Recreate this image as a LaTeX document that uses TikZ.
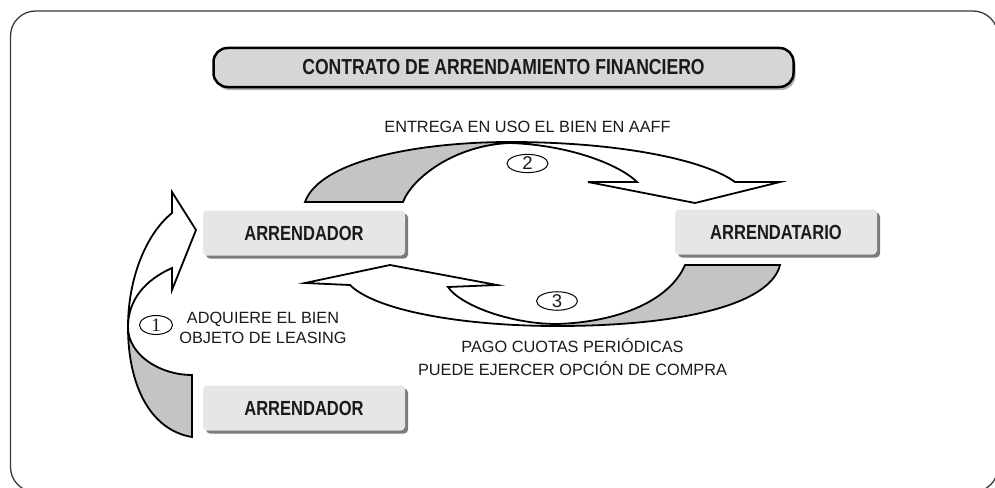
\documentclass[tikz,border=0pt]{standalone}
\usepackage{fontspec}
\setmainfont{Liberation Sans}
\newfontfamily\narrowfont{Liberation Sans}[FakeStretch=0.81]
\newfontfamily\serifnum{Liberation Serif}
\usetikzlibrary{shadows,shapes.geometric}
\definecolor{boxfill}{HTML}{E6E6E6}
\definecolor{titlefill}{HTML}{D6D6D6}
\definecolor{arrowgray}{HTML}{C4C4C4}
\definecolor{framecol}{HTML}{3A3A3A}
\definecolor{txt}{HTML}{1A1A1A}
\definecolor{shadowcol}{HTML}{6E6E6E}
\begin{document}
\begin{tikzpicture}[x=1pt,y=-1pt,
  partybox/.style={fill=boxfill, rounded corners=4pt, minimum width=202pt,
    minimum height=45pt, inner sep=0pt, text=txt,
    font={\narrowfont\bfseries\fontsize{20.4}{24}\selectfont},
    drop shadow={shadow xshift=3pt, shadow yshift=-3pt, fill=shadowcol, opacity=0.9}},
  titlebox/.style={draw=black, line width=2.5pt, fill=titlefill, rounded corners=14pt,
    minimum width=580pt, minimum height=39pt, inner sep=0pt, text=txt,
    font={\narrowfont\bfseries\fontsize{21.7}{25}\selectfont},
    drop shadow={shadow xshift=2pt, shadow yshift=-3pt, fill=gray, opacity=0.6}},
  lbl/.style={text=txt, inner sep=0pt, font={\fontsize{16.3}{20}\selectfont}},
  numoval/.style={ellipse, draw=black, line width=1pt, fill=white, inner sep=0pt,
    minimum width=41pt, minimum height=17pt, text=txt, font={\fontsize{18.5}{19}\selectfont}},
  ribbon/.style={draw=black, line width=1.8pt, line join=miter},
  ribbonfill/.style={fill=arrowgray}
]
\useasboundingbox (0,0) rectangle (995,487);
\clip (0,0) rectangle (995,487);
\fill[white] (0,0) rectangle (995,487);
% outer frame
\draw[framecol, line width=1.3pt, rounded corners=25pt] (10.5,11) rectangle (998,492);

% title
\node[titlebox] (title) at (503.5,67.5) {CONTRATO DE ARRENDAMIENTO FINANCIERO};

% boxes
\node[partybox] (arr1) at (304,233) {ARRENDADOR};
\node[partybox] (arrt) at (776,232) {ARRENDATARIO};
\node[partybox] (arr0) at (304,408) {ARRENDADOR};

% arrow 2 (top)
\fill[ribbonfill] (305,202) -- (403,202) .. controls (412,178) and (455,145) .. (510,143)
  .. controls (420,142) and (320,160) .. (305,202) -- cycle;
\draw[ribbon] (305,202) -- (403,202) .. controls (412,178) and (455,145) .. (510,143)
  .. controls (570,145) and (620,165) .. (637,182) -- (588,182) -- (695,203) -- (780,182)
  -- (735,182) .. controls (705,160) and (620,142) .. (510,142)
  .. controls (420,142) and (320,160) .. (305,202) -- cycle;

% arrow 3 (bottom)
\fill[ribbonfill] (780,265) -- (685,265) .. controls (670,300) and (620,322) .. (557,325)
  .. controls (680,326) and (770,305) .. (780,265) -- cycle;
\draw[ribbon] (780,265) -- (685,265) .. controls (670,300) and (620,322) .. (557,324)
  .. controls (510,324) and (460,305) .. (448,287) -- (497,285) -- (390,265) -- (305,283)
  -- (350,285) .. controls (375,310) and (460,326) .. (557,326)
  .. controls (680,326) and (770,305) .. (780,265) -- cycle;

% arrow 1 (left)
\fill[ribbonfill] (192,437) -- (192,375) .. controls (160,375) and (128,355) .. (128,327)
  .. controls (128,385) and (150,430) .. (192,437) -- cycle;
\draw[ribbon] (192,437) -- (192,375) .. controls (160,375) and (128,355) .. (128,327)
  .. controls (128,300) and (145,280) .. (172,268) -- (172,290) -- (196,230) -- (172,192)
  -- (172,213) .. controls (145,235) and (128,280) .. (128,327)
  .. controls (128,385) and (150,430) .. (192,437) -- cycle;

% number ovals
\node[numoval] (n2) at (527.5,163.5) {2};
\node[numoval] (n3) at (557,301) {3};
\node[numoval, minimum width=33pt, minimum height=19pt, font={\serifnum\fontsize{19}{20}\selectfont}] (n1) at (156,325) {1};

% labels
\node[lbl, anchor=base] (entrega) at (527.5,132) {ENTREGA EN USO EL BIEN EN AAFF};
\node[lbl, anchor=base] (adq1) at (263,323) {ADQUIERE EL BIEN};
\node[lbl, anchor=base] (adq2) at (263,343) {OBJETO DE LEASING};
\node[lbl, anchor=base] (pago1) at (572.5,352) {PAGO CUOTAS PERIÓDICAS};
\node[lbl, anchor=base] (pago2) at (572.5,375) {PUEDE EJERCER OPCIÓN DE COMPRA};
\end{tikzpicture}
\end{document}
